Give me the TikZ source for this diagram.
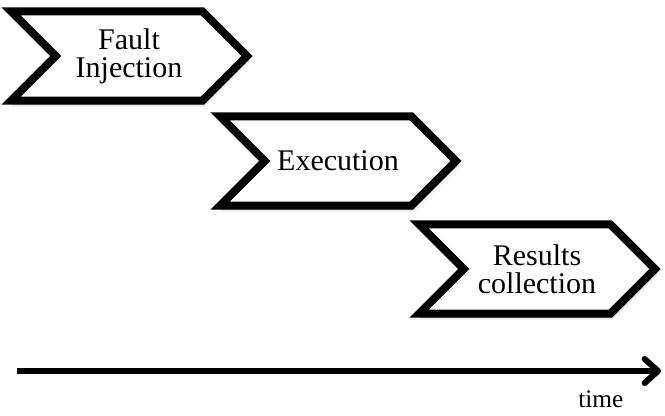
\documentclass[tikz,border=0pt]{standalone}
\usepackage{fontspec}
\setmainfont{Liberation Serif}
\usetikzlibrary{shapes.symbols,arrows.meta,shadows.blur}

\tikzset{
  phase/.style={signal, signal to=east, signal from=west, draw=black, line width=6pt,
    fill=white, minimum width=177pt, minimum height=67pt, inner sep=0pt, align=center,
    font=\fontsize{22.5}{21}\selectfont,
    blur shadow={shadow xshift=1.5pt, shadow yshift=-3pt, shadow opacity=35}},
  timeline/.style={line width=4.5pt, -{Straight Barb[length=10pt,width=18pt,round]}}
}

\begin{document}
\begin{tikzpicture}[x=0.75pt, y=-0.75pt]

\useasboundingbox (0,0) rectangle (665,416);

\node [phase] (fault) at (129,56) {Fault\\Injection};
\node [phase] (exec) at (338,161) {Execution};
\node [phase] (results) at (537,269) {Results\\collection};

\coordinate (t0) at (17,371);
\coordinate (t1) at (661,371);
\draw [timeline] (t0) -- (t1);
\node [font=\fontsize{19}{19}\selectfont, below left=0pt] (time) at (628,386) {time};

\end{tikzpicture}
\end{document}
